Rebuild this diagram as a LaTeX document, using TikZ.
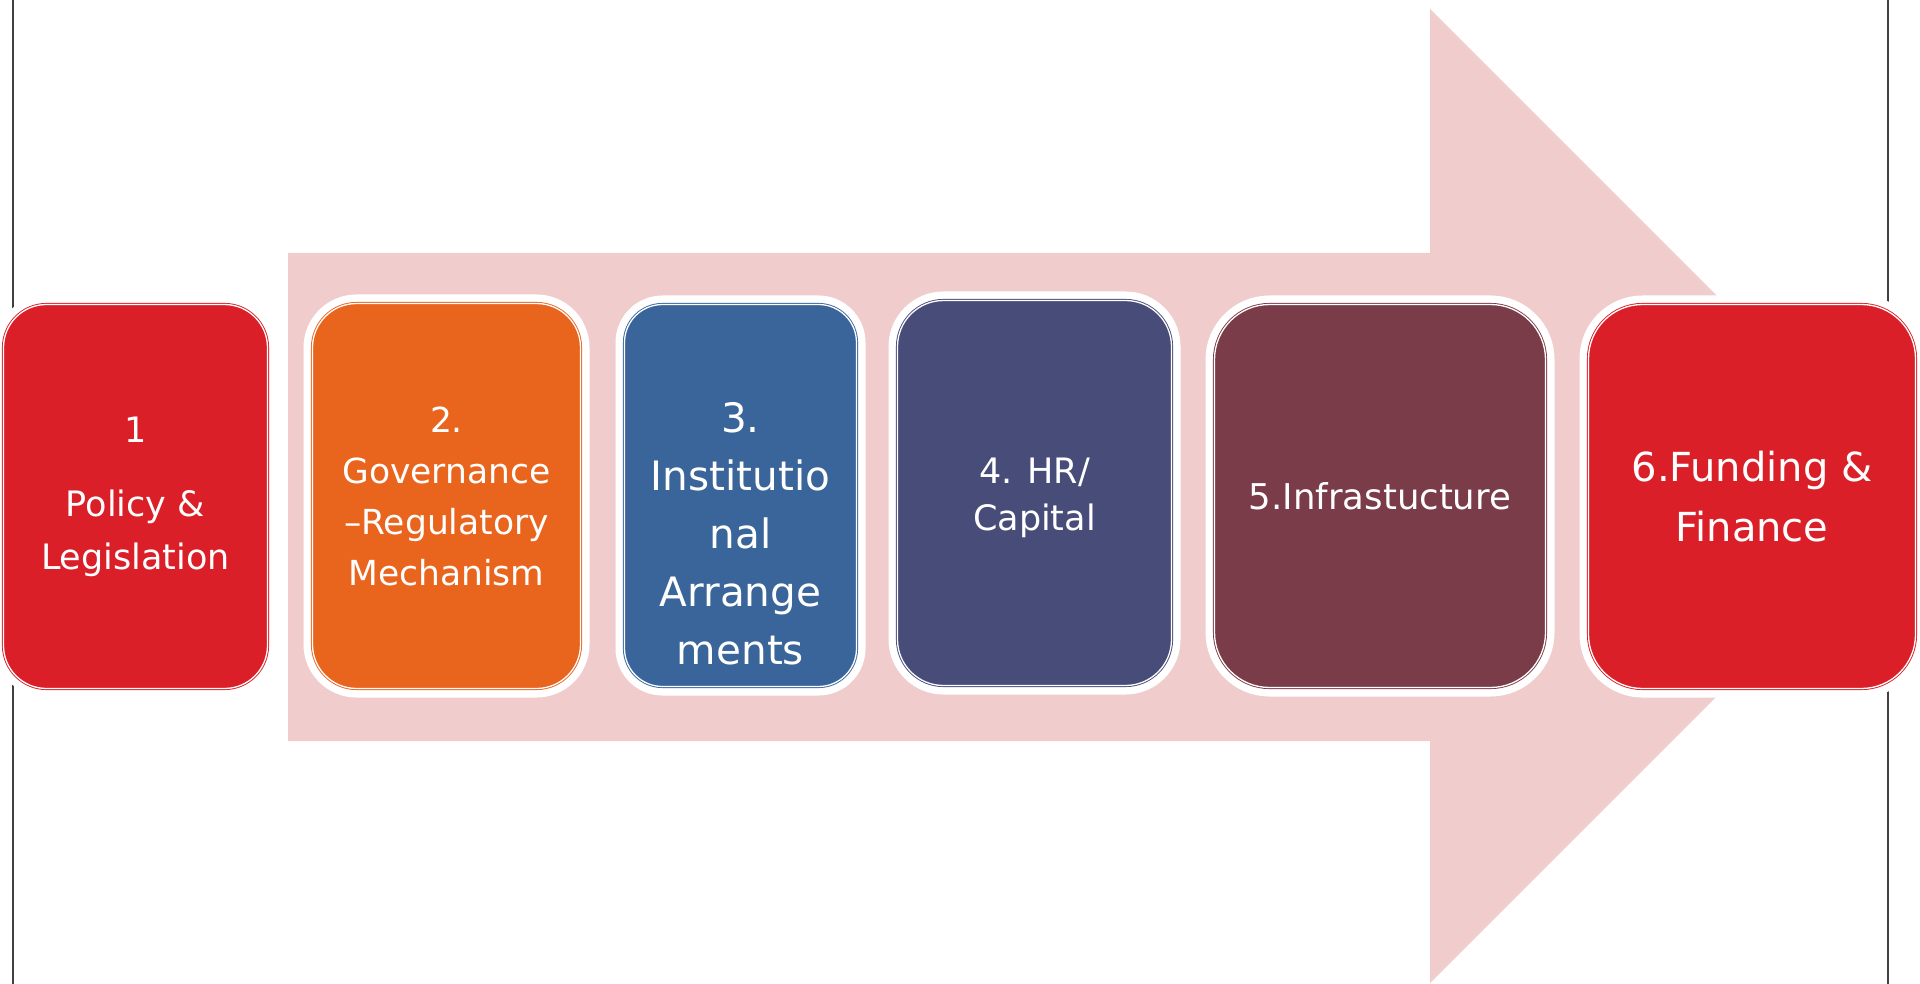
\documentclass[tikz,border=0pt]{standalone}
\usepackage{fontspec}
\setmainfont{DejaVu Sans}

\definecolor{arrowpink}{RGB}{240,204,204}
\definecolor{stepred}{RGB}{218,31,40}
\definecolor{steporange}{RGB}{233,101,30}
\definecolor{stepblue}{RGB}{58,101,155}
\definecolor{stepindigo}{RGB}{72,76,120}
\definecolor{stepmaroon}{RGB}{123,60,74}

\tikzset{
	stepbox/.style={rectangle, inner sep=0pt, line width=0.9pt,
		double=white, double distance=1.3pt,
		preaction={draw=white, line width=18pt}},
	steptext/.style={text=white, align=center, inner sep=0pt},
}

\begin{document}
\begin{tikzpicture}[x=1pt,y=-1pt]
			\useasboundingbox (0,0) rectangle (1920,984);
			% page edges
			\draw[line width=2pt, black!75] (13,0) -- (13,984) (1888,0) -- (1888,984);
			% big arrow
			\fill[arrowpink] (288,253) -- (1430,253) -- (1430,9) -- (1917,496)
				-- (1430,983) -- (1430,741) -- (288,741) -- cycle;
			% steps
			\node[stepbox, steptext, draw=stepred, fill=stepred, rounded corners=43pt,
				minimum width=264pt, minimum height=384pt, font=\fontsize{35}{53}\selectfont]
				(policy) at (135.5,496.5) {1\\[21pt]Policy \&\\Legislation};
			\node[stepbox, steptext, draw=steporange, fill=steporange, rounded corners=44pt,
				minimum width=268pt, minimum height=385pt, font=\fontsize{34.5}{51}\selectfont]
				(governance) at (446.5,496) {2.\\Governance\\--Regulatory\\Mechanism};
			\node[stepbox, draw=stepblue, fill=stepblue, rounded corners=38pt,
				minimum width=232pt, minimum height=382pt]
				(institutional) at (740.5,495.5) {};
			\node[steptext, font=\fontsize{40.5}{58}\selectfont]
				(institutionaltext) at ([yshift=-38pt]institutional.center)
				{3.\\Institutio\\nal\\Arrange\\ments};
			\node[stepbox, draw=stepindigo, fill=stepindigo, rounded corners=46pt,
				minimum width=274pt, minimum height=385pt]
				(hrcapital) at (1034.5,493) {};
			\node[steptext, font=\fontsize{35}{47}\selectfont]
				(hrcapitaltext) at ([yshift=-5pt]hrcapital.center) {4. HR/\\Capital};
			\node[stepbox, steptext, draw=stepmaroon, fill=stepmaroon, rounded corners=55pt,
				minimum width=331pt, minimum height=383pt, font=\fontsize{35.5}{50}\selectfont]
				(infrastructure) at (1380,496) {5.Infrastucture};
			\node[stepbox, steptext, draw=stepred, fill=stepred, rounded corners=54pt,
				minimum width=327pt, minimum height=384pt, font=\fontsize{40}{60}\selectfont]
				(funding) at (1752,496.5) {6.Funding \&\\Finance};
	\end{tikzpicture}
\end{document}
